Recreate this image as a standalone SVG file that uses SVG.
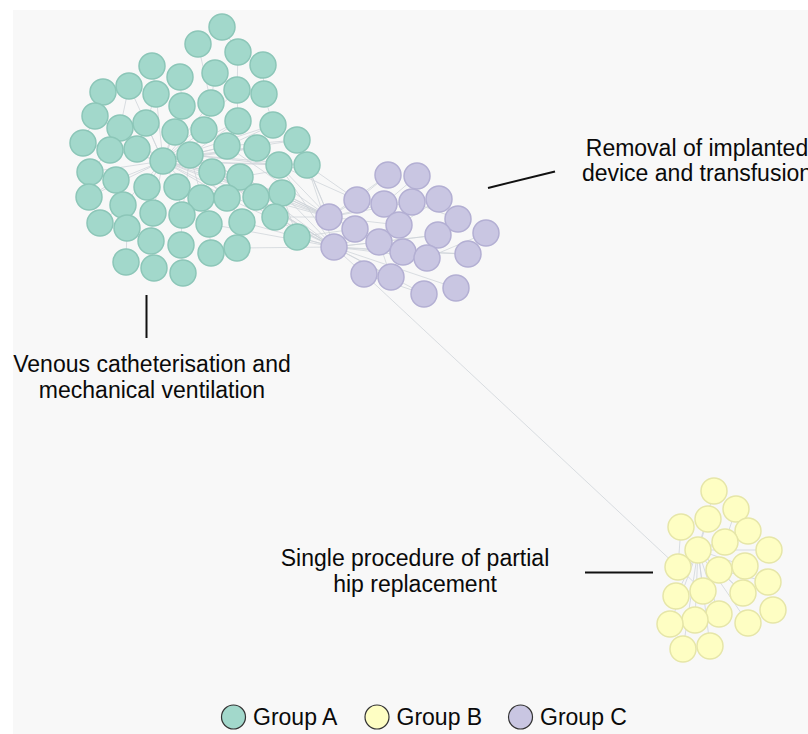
<svg xmlns="http://www.w3.org/2000/svg" width="808" height="734" viewBox="0 0 808 734">
<style>
.a{fill:#a2d8cb;stroke:#8cc6b8;stroke-width:1.5}
.b{fill:#fefec3;stroke:#e6e6a8;stroke-width:1.5}
.c{fill:#c9c6e2;stroke:#b3afd3;stroke-width:1.5}
.e{fill:none;stroke:#cdd3d8;stroke-width:1;stroke-opacity:0.75}
.lg{stroke:#333;stroke-width:1.2}
.t{font-family:"Liberation Sans",Arial,sans-serif;font-size:23px;fill:#0a0a0a}
.lt{font-family:"Liberation Sans",Arial,sans-serif;font-size:23px;fill:#0a0a0a}
.ln{stroke:#111;stroke-width:2;fill:none}
</style>
<rect x="0" y="0" width="808" height="734" fill="#ffffff"/>
<rect x="13" y="10" width="795" height="724" fill="#f8f8f8"/>
<g id="connectors">
<path class="e" d="M163 161L137 149M163 161L110 150M163 161L120 128M163 161L146 123M163 161L175 132M163 161L190 155M163 161L204 130M163 161L227 146M163 161L257 148M163 161L212 172M163 161L177 187M163 161L147 187M163 161L116 180M163 161L90 172M163 161L83 143M163 161L95 116M163 161L129 86M163 161L156 94M163 161L182 106M163 161L211 103M163 161L237 90M163 161L238 121M163 161L273 125M163 161L297 140M163 161L279 165M163 161L307 165M163 161L282 193M163 161L256 197M163 161L240 177M163 161L201 198M163 161L227 198M163 161L153 213M163 161L123 205M163 161L89 197"/>
<path class="e" d="M190 155L227 146M190 155L257 148M190 155L240 177M190 155L212 172M190 155L279 165M190 155L307 165M190 155L204 130M190 155L238 121M190 155L182 215M190 155L209 224M190 155L242 222M190 155L275 217M212 172L256 197M212 172L282 193M227 146L297 140M227 146L273 125M240 177L307 165"/>
<path class="e" d="M222 27L238 52M198 44L211 103M238 52L237 90M263 65L264 94M215 73L237 90M152 66L156 94M129 86L120 128M103 92L95 116M180 77L182 106M215 73L211 103M237 90L238 121M264 94L273 125M156 94L146 123M182 106L175 132M95 116L83 143M120 128L110 150M110 150L90 172M116 180L89 197M123 205L100 223M127 228L126 262M151 241L154 268M181 245L183 273M209 224L211 253M242 222L237 248M153 213L151 241M182 215L181 245M147 187L153 213M177 187L182 215M116 180L123 205M123 205L127 228M201 198L209 224M227 198L242 222M256 197L275 217M282 193L297 237"/>
<path class="e" d="M329 217L279 165M329 217L307 165M329 217L282 193M329 217L256 197M329 217L240 177M329 217L227 146M329 217L190 155M329 217L163 161M329 217L212 172M329 217L275 217M329 217L297 140M334 247L297 237M334 247L275 217M334 247L282 193M334 247L256 197M334 247L242 222M334 247L227 198M334 247L240 177M334 247L212 172M334 247L190 155M334 247L163 161M334 247L237 248M334 247L307 165M334 247L279 165M355 229L282 193M355 229L297 237M357 200L307 165M357 200L279 165M334 247L209 224"/>
<path class="e" d="M334 247L379 242M334 247L355 229M334 247L364 274M334 247L391 277M334 247L403 252M334 247L399 225M334 247L427 258M334 247L438 235M334 247L456 288M334 247L424 294M334 247L468 254M329 217L357 200M329 217L384 204M329 217L388 175M329 217L355 229M329 217L399 225M329 217L412 202M357 200L388 175M384 204L412 202M399 225L439 199M379 242L438 235M403 252L468 254M427 258L486 233M438 235L458 219M399 225L417 176M364 274L424 294M379 242L391 277M384 204L417 176M412 202L458 219"/>
<path class="e" d="M364 274L678 567"/>
<path class="e" d="M698 550L708 519M698 550L725 542M698 550L714 491M698 550L719 570M698 550L703 591M698 550L676 596M698 550L695 620M698 550L719 614M698 550L670 624M698 550L683 649M698 550L745 566M698 550L743 593M698 550L769 550M698 550L748 531M678 567L681 527M678 567L703 591M719 570L743 593M725 542L736 509M698 550L710 646M698 550L748 623M719 570L768 582"/>
</g>
<g id="g1"><circle class="a" cx="222" cy="27" r="13"/></g>
<g id="g2"><circle class="a" cx="198" cy="44" r="13"/></g>
<g id="g3"><circle class="a" cx="238" cy="52" r="13"/></g>
<g id="g4"><circle class="a" cx="152" cy="66" r="13"/></g>
<g id="g5"><circle class="a" cx="263" cy="65" r="13"/></g>
<g id="g6"><circle class="a" cx="180" cy="77" r="13"/></g>
<g id="g7"><circle class="a" cx="215" cy="73" r="13"/></g>
<g id="g8"><circle class="a" cx="103" cy="92" r="13"/></g>
<g id="g9"><circle class="a" cx="129" cy="86" r="13"/></g>
<g id="g10"><circle class="a" cx="156" cy="94" r="13"/></g>
<g id="g11"><circle class="a" cx="237" cy="90" r="13"/></g>
<g id="g12"><circle class="a" cx="264" cy="94" r="13"/></g>
<g id="g13"><circle class="a" cx="182" cy="106" r="13"/></g>
<g id="g14"><circle class="a" cx="211" cy="103" r="13"/></g>
<g id="g15"><circle class="a" cx="95" cy="116" r="13"/></g>
<g id="g16"><circle class="a" cx="238" cy="121" r="13"/></g>
<g id="g17"><circle class="a" cx="273" cy="125" r="13"/></g>
<g id="g18"><circle class="a" cx="120" cy="128" r="13"/></g>
<g id="g19"><circle class="a" cx="146" cy="123" r="13"/></g>
<g id="g20"><circle class="a" cx="175" cy="132" r="13"/></g>
<g id="g21"><circle class="a" cx="204" cy="130" r="13"/></g>
<g id="g22"><circle class="a" cx="297" cy="140" r="13"/></g>
<g id="g23"><circle class="a" cx="83" cy="143" r="13"/></g>
<g id="g24"><circle class="a" cx="110" cy="150" r="13"/></g>
<g id="g25"><circle class="a" cx="137" cy="149" r="13"/></g>
<g id="g26"><circle class="a" cx="227" cy="146" r="13"/></g>
<g id="g27"><circle class="a" cx="257" cy="148" r="13"/></g>
<g id="g28"><circle class="a" cx="163" cy="161" r="13"/></g>
<g id="g29"><circle class="a" cx="190" cy="155" r="13"/></g>
<g id="g30"><circle class="a" cx="279" cy="165" r="13"/></g>
<g id="g31"><circle class="a" cx="307" cy="165" r="13"/></g>
<g id="g32"><circle class="a" cx="90" cy="172" r="13"/></g>
<g id="g33"><circle class="a" cx="116" cy="180" r="13"/></g>
<g id="g34"><circle class="a" cx="212" cy="172" r="13"/></g>
<g id="g35"><circle class="a" cx="240" cy="177" r="13"/></g>
<g id="g36"><circle class="a" cx="147" cy="187" r="13"/></g>
<g id="g37"><circle class="a" cx="177" cy="187" r="13"/></g>
<g id="g38"><circle class="a" cx="282" cy="193" r="13"/></g>
<g id="g39"><circle class="a" cx="89" cy="197" r="13"/></g>
<g id="g40"><circle class="a" cx="123" cy="205" r="13"/></g>
<g id="g41"><circle class="a" cx="201" cy="198" r="13"/></g>
<g id="g42"><circle class="a" cx="227" cy="198" r="13"/></g>
<g id="g43"><circle class="a" cx="256" cy="197" r="13"/></g>
<g id="g44"><circle class="a" cx="153" cy="213" r="13"/></g>
<g id="g45"><circle class="a" cx="182" cy="215" r="13"/></g>
<g id="g46"><circle class="a" cx="275" cy="217" r="13"/></g>
<g id="g47"><circle class="a" cx="100" cy="223" r="13"/></g>
<g id="g48"><circle class="a" cx="127" cy="228" r="13"/></g>
<g id="g49"><circle class="a" cx="209" cy="224" r="13"/></g>
<g id="g50"><circle class="a" cx="242" cy="222" r="13"/></g>
<g id="g51"><circle class="a" cx="297" cy="237" r="13"/></g>
<g id="g52"><circle class="a" cx="151" cy="241" r="13"/></g>
<g id="g53"><circle class="a" cx="181" cy="245" r="13"/></g>
<g id="g54"><circle class="a" cx="211" cy="253" r="13"/></g>
<g id="g55"><circle class="a" cx="237" cy="248" r="13"/></g>
<g id="g56"><circle class="a" cx="126" cy="262" r="13"/></g>
<g id="g57"><circle class="a" cx="154" cy="268" r="13"/></g>
<g id="g58"><circle class="a" cx="183" cy="273" r="13"/></g>
<g id="p1"><circle class="c" cx="388" cy="175" r="13"/></g>
<g id="p2"><circle class="c" cx="417" cy="176" r="13"/></g>
<g id="p3"><circle class="c" cx="357" cy="200" r="13"/></g>
<g id="p4"><circle class="c" cx="384" cy="204" r="13"/></g>
<g id="p5"><circle class="c" cx="412" cy="202" r="13"/></g>
<g id="p6"><circle class="c" cx="439" cy="199" r="13"/></g>
<g id="p7"><circle class="c" cx="329" cy="217" r="13"/></g>
<g id="p8"><circle class="c" cx="458" cy="219" r="13"/></g>
<g id="p9"><circle class="c" cx="399" cy="225" r="13"/></g>
<g id="p10"><circle class="c" cx="355" cy="229" r="13"/></g>
<g id="p11"><circle class="c" cx="486" cy="233" r="13"/></g>
<g id="p12"><circle class="c" cx="438" cy="235" r="13"/></g>
<g id="p13"><circle class="c" cx="379" cy="242" r="13"/></g>
<g id="p14"><circle class="c" cx="334" cy="247" r="13"/></g>
<g id="p15"><circle class="c" cx="403" cy="252" r="13"/></g>
<g id="p16"><circle class="c" cx="427" cy="258" r="13"/></g>
<g id="p17"><circle class="c" cx="468" cy="254" r="13"/></g>
<g id="p18"><circle class="c" cx="364" cy="274" r="13"/></g>
<g id="p19"><circle class="c" cx="391" cy="277" r="13"/></g>
<g id="p20"><circle class="c" cx="424" cy="294" r="13"/></g>
<g id="p21"><circle class="c" cx="456" cy="288" r="13"/></g>
<g id="y1"><circle class="b" cx="714" cy="491" r="13"/></g>
<g id="y2"><circle class="b" cx="736" cy="509" r="13"/></g>
<g id="y3"><circle class="b" cx="708" cy="519" r="13"/></g>
<g id="y4"><circle class="b" cx="681" cy="527" r="13"/></g>
<g id="y5"><circle class="b" cx="748" cy="531" r="13"/></g>
<g id="y6"><circle class="b" cx="725" cy="542" r="13"/></g>
<g id="y7"><circle class="b" cx="698" cy="550" r="13"/></g>
<g id="y8"><circle class="b" cx="769" cy="550" r="13"/></g>
<g id="y9"><circle class="b" cx="678" cy="567" r="13"/></g>
<g id="y10"><circle class="b" cx="719" cy="570" r="13"/></g>
<g id="y11"><circle class="b" cx="745" cy="566" r="13"/></g>
<g id="y12"><circle class="b" cx="768" cy="582" r="13"/></g>
<g id="y13"><circle class="b" cx="703" cy="591" r="13"/></g>
<g id="y14"><circle class="b" cx="743" cy="593" r="13"/></g>
<g id="y15"><circle class="b" cx="676" cy="596" r="13"/></g>
<g id="y16"><circle class="b" cx="773" cy="610" r="13"/></g>
<g id="y17"><circle class="b" cx="719" cy="614" r="13"/></g>
<g id="y18"><circle class="b" cx="695" cy="620" r="13"/></g>
<g id="y19"><circle class="b" cx="748" cy="623" r="13"/></g>
<g id="y20"><circle class="b" cx="670" cy="624" r="13"/></g>
<g id="y21"><circle class="b" cx="683" cy="649" r="13"/></g>
<g id="y22"><circle class="b" cx="710" cy="646" r="13"/></g>
<g id="label-removal">
<line class="ln" x1="488" y1="188" x2="555" y2="171.5"/>
<text class="t" x="697" y="156" text-anchor="middle">Removal of implanted</text>
<text class="t" x="697" y="181" text-anchor="middle">device and transfusion</text>
</g>
<g id="label-venous">
<line class="ln" x1="146.5" y1="295" x2="146.5" y2="338"/>
<text class="t" x="152" y="372" text-anchor="middle">Venous catheterisation and</text>
<text class="t" x="152" y="398" text-anchor="middle">mechanical ventilation</text>
</g>
<g id="label-hip">
<line class="ln" x1="585" y1="572.5" x2="653" y2="572.5"/>
<text class="t" x="415" y="566" text-anchor="middle">Single procedure of partial</text>
<text class="t" x="415" y="592" text-anchor="middle">hip replacement</text>
</g>
<g id="legend">
<circle class="lg" cx="233.5" cy="717" r="12" fill="#a2d8cb"/>
<text class="lt" x="253" y="725">Group A</text>
<circle class="lg" cx="377" cy="717" r="12" fill="#fefec3"/>
<text class="lt" x="396.5" y="725">Group B</text>
<circle class="lg" cx="520.5" cy="717" r="12" fill="#c9c6e2"/>
<text class="lt" x="540" y="725">Group C</text>
</g>
</svg>
